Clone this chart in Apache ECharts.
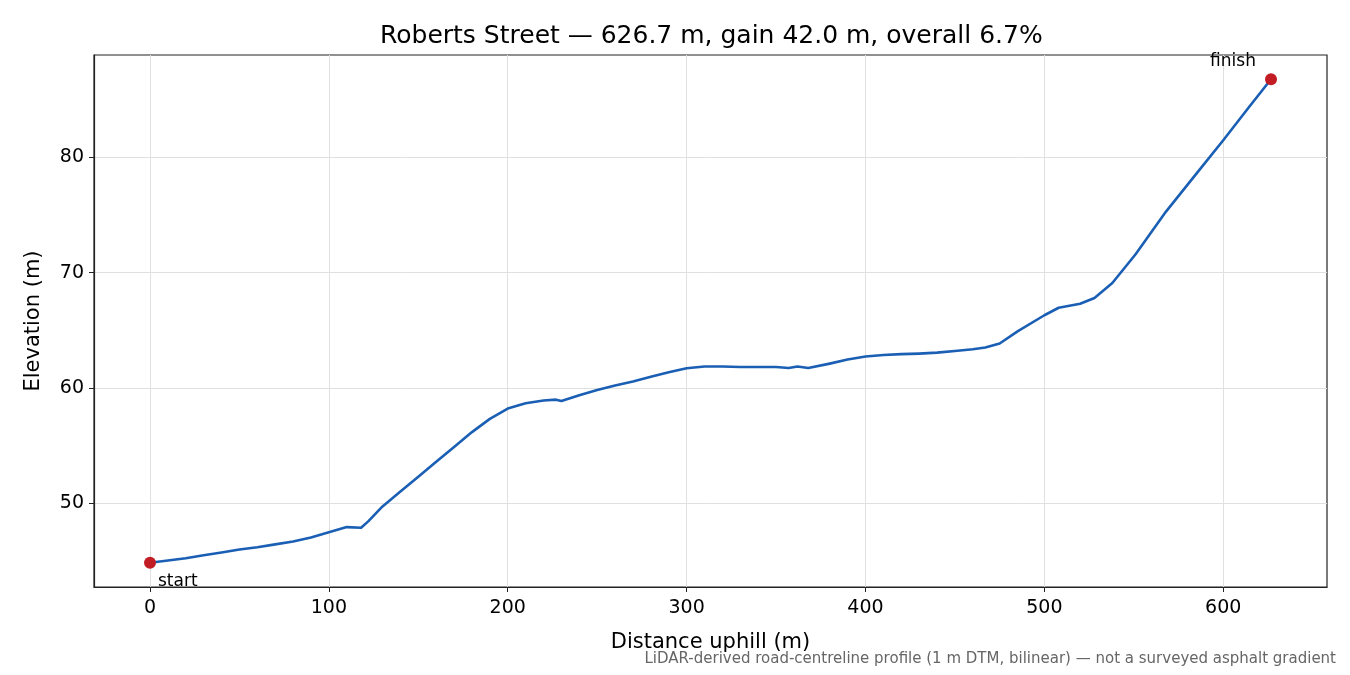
<!DOCTYPE html>
<html>
<head>
<meta charset="utf-8">
<script src="https://cdn.jsdelivr.net/npm/echarts@6/dist/echarts.min.js"></script>
<style>
  html, body { margin: 0; padding: 0; background: #fff; }
  #chart { width: 1350px; height: 675px; }
</style>
</head>
<body>
<div id="chart"></div>
<script>
// distance along road (m) and elevation (m)
const distance = [
  0, 10, 20, 30, 40, 50, 60, 70, 80, 90,
  100, 110, 118, 122, 130, 140, 150, 160, 170, 180,
  190, 200, 210, 220, 227, 230, 240, 250, 260, 270,
  280, 290, 300, 310, 320, 330, 340, 350, 357, 362,
  368, 380, 390, 400, 410, 420, 430, 440, 450, 460,
  467, 475, 485, 500, 508, 520, 528, 538, 551, 568,
  585, 600, 614, 626.7
];
const elevation = [
  44.8, 45.0, 45.2, 45.45, 45.7, 45.95, 46.15, 46.4, 46.65, 47.0,
  47.45, 47.9, 47.85, 48.4, 49.7, 50.99, 52.28, 53.57, 54.86, 56.15,
  57.3, 58.2, 58.65, 58.9, 58.97, 58.85, 59.35, 59.8, 60.2, 60.55,
  60.95, 61.35, 61.7, 61.85, 61.85, 61.8, 61.8, 61.8, 61.72, 61.85,
  61.72, 62.1, 62.45, 62.72, 62.85, 62.92, 62.97, 63.05, 63.2, 63.35,
  63.5, 63.85, 64.9, 66.3, 66.95, 67.3, 67.8, 69.1, 71.6, 75.3,
  78.6, 81.5, 84.3, 86.8
];
const xTicks = [0, 100, 200, 300, 400, 500, 600];
const yTicks = [50, 60, 70, 80];

const profile = distance.map((d, i) => [d, elevation[i]]);
const startPt = profile[0];
const finishPt = profile[profile.length - 1];

const FONT = 'DejaVu Sans';
const chart = echarts.init(document.getElementById('chart'));

chart.setOption({
  animation: false,
  textStyle: { fontFamily: FONT },
  title: {
    text: 'Roberts Street \u2014 626.7 m, gain 42.0 m, overall 6.7%',
    left: 375,
    top: 19,
    textStyle: { fontFamily: FONT, fontSize: 25, fontWeight: 'normal', color: '#000' }
  },
  grid: {
    left: 94, right: 23, top: 55, bottom: 88,
    show: true, borderColor: '#222', borderWidth: 1.2
  },
  xAxis: {
    type: 'value',
    min: -31.3,
    max: 658.0,
    name: 'Distance uphill (m)',
    nameLocation: 'middle',
    nameGap: 45,
    nameTextStyle: { fontFamily: FONT, fontSize: 21, color: '#000' },
    axisLine: { show: true, onZero: false, lineStyle: { color: '#222', width: 1.2 } },
    axisTick: { show: true, customValues: xTicks, length: 5, lineStyle: { color: '#222' } },
    axisLabel: { customValues: xTicks, margin: 12, fontSize: 19, color: '#000' },
    splitLine: { show: true, lineStyle: { color: '#e0e0e0', width: 1 } }
  },
  yAxis: {
    type: 'value',
    min: 42.7,
    max: 88.9,
    name: 'Elevation (m)',
    nameLocation: 'middle',
    nameGap: 50,
    nameTextStyle: { fontFamily: FONT, fontSize: 21, color: '#000' },
    axisLine: { show: true, onZero: false, lineStyle: { color: '#222', width: 1.2 } },
    axisTick: { show: true, customValues: yTicks, length: 5, lineStyle: { color: '#222' } },
    axisLabel: { customValues: yTicks, margin: 10, fontSize: 19, color: '#000' },
    splitLine: { show: true, lineStyle: { color: '#e0e0e0', width: 1 } }
  },
  series: [
    {
      type: 'line',
      data: profile,
      showSymbol: false,
      lineStyle: { color: '#1a5fb4', width: 2.6, join: 'round' },
      z: 2
    },
    {
      type: 'scatter',
      data: [startPt],
      symbolSize: 12,
      itemStyle: { color: '#c21c25', opacity: 1 },
      label: {
        show: true, formatter: 'start', position: 'inside',
        align: 'left', verticalAlign: 'middle', offset: [8, 19],
        fontSize: 17, color: '#000'
      },
      z: 3
    },
    {
      type: 'scatter',
      data: [finishPt],
      symbolSize: 12,
      itemStyle: { color: '#c21c25', opacity: 1 },
      label: {
        show: true, formatter: 'finish', position: 'inside',
        align: 'center', verticalAlign: 'middle', offset: [-38, -18],
        fontSize: 17, color: '#000'
      },
      z: 3
    }
  ],
  graphic: [
    {
      type: 'text',
      right: 14,
      top: 652,
      style: {
        text: 'LiDAR-derived road-centreline profile (1 m DTM, bilinear) \u2014 not a surveyed asphalt gradient',
        fontFamily: FONT, fontSize: 15, fill: '#666'
      }
    }
  ]
});
</script>
</body>
</html>
